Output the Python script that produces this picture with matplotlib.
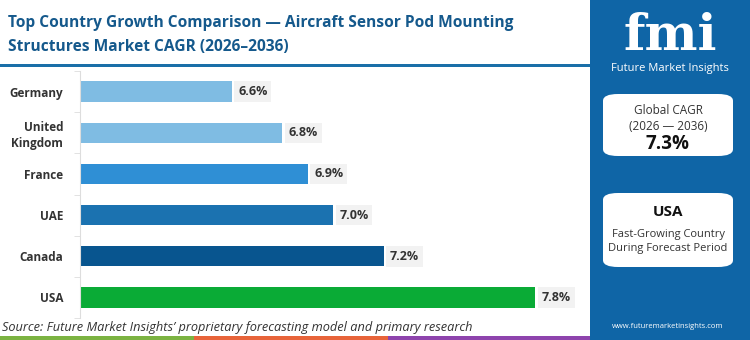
import numpy as np
import matplotlib.pyplot as plt
from matplotlib.patches import Rectangle, FancyBboxPatch

# data
countries = ['Germany', 'United\nKingdom', 'France', 'UAE', 'Canada', 'USA']
cagr = [6.6, 6.8, 6.9, 7.0, 7.2, 7.8]
bar_colors = ['#7fbce3', '#7fbce3', '#2f8fd5', '#1b72b0', '#08558f', '#0aab36']
global_cagr = '7.3%'
top_country = 'USA'

W, H = 750, 340
plt.rcParams['font.family'] = ['Open Sans', 'DejaVu Sans']

fig = plt.figure(figsize=(W / 100, H / 100), dpi=100)
fig.patch.set_facecolor('white')


def fx(x):
    return x / W


def fy(y):
    return 1 - y / H


# title
fig.text(fx(8), fy(23), 'Top Country Growth Comparison \u2014 Aircraft Sensor Pod Mounting',
         fontsize=11.2, fontweight='bold', color='#15598c', va='center', ha='left')
fig.text(fx(8), fy(47), 'Structures Market CAGR (2026\u20132036)',
         fontsize=11.2, fontweight='bold', color='#15598c', va='center', ha='left')
fig.add_artist(Rectangle((0, fy(67)), fx(590), 3 / H, transform=fig.transFigure,
                         color='#1a6fa8', lw=0))

# bars
ax = fig.add_axes([fx(80), fy(318), fx(586) - fx(80), (318 - 71) / H])
y = np.arange(len(countries))
ax.barh(y, [v - 6.0 for v in cagr], left=6.0, height=0.49, color=bar_colors)
ax.set_xlim(6.0, 8.0)
ax.set_ylim(len(countries) - 0.5, -0.5)
ax.set_yticks(y)
ax.set_yticklabels(countries, fontsize=8.5, fontweight='bold', color='#333333',
                   linespacing=1.3)
ax.set_yticks(np.arange(-0.5, len(countries), 1.0), minor=True)
ax.tick_params(axis='y', which='major', length=0, pad=12)
ax.tick_params(axis='y', which='minor', length=4, color='#dddddd')
ax.set_xticks([])
for s in ['top', 'right', 'bottom']:
    ax.spines[s].set_visible(False)
ax.spines['left'].set_color('#dddddd')
for yi, v in zip(y, cagr):
    ax.text(v + 0.025, yi, f'{v:.1f}%', va='center', ha='left', fontsize=9,
            fontweight='bold', color='#333333',
            bbox=dict(boxstyle='square,pad=0.3', fc='#f2f2f2', ec='none'))

# source + bottom strip
fig.text(fx(2), fy(328), 'Source: Future Market Insights\u2019 proprietary forecasting model and primary research',
         fontsize=9.2, style='italic', color='#333333', va='center', ha='left')
for x0, x1, c in [(0, 194, '#7cb342'), (194, 388, '#e8643a'), (388, 590, '#8e44ad')]:
    fig.add_artist(Rectangle((fx(x0), 0), fx(x1 - x0), 4 / H, transform=fig.transFigure,
                             color=c, lw=0))

# right panel
fig.add_artist(Rectangle((fx(590), 0), fx(160), 1, transform=fig.transFigure,
                         color='#0f65a6', lw=0))
fig.text(fx(670), fy(50), 'fmi', fontsize=36, fontweight='bold', family='DejaVu Serif',
         color='white', ha='center', va='baseline')
for yy in np.arange(16, 52, 3.2):
    fig.add_artist(Rectangle((fx(610), fy(yy)), fx(120), 1.2 / H,
                             transform=fig.transFigure, color='#0f65a6', lw=0))
fig.text(fx(670), fy(68), 'Future Market Insights', fontsize=8, color='white',
         ha='center', va='center')

for y0, y1 in [(94, 156), (193, 267)]:
    fig.add_artist(FancyBboxPatch((fx(603), fy(y1)), fx(130), (y1 - y0) / H,
                                  boxstyle='round,pad=0,rounding_size=0.02',
                                  transform=fig.transFigure, fc='white', ec='none'))
fig.text(fx(668), fy(110), 'Global CAGR', fontsize=8.5, color='#333333', ha='center', va='center')
fig.text(fx(668), fy(127), '(2026 \u2014 2036)', fontsize=8.5, color='#333333', ha='center', va='center')
fig.text(fx(668), fy(144), global_cagr, fontsize=13.5, fontweight='bold', color='#111111',
         ha='center', va='center')
fig.text(fx(668), fy(212), top_country, fontsize=11, fontweight='bold', color='#111111',
         ha='center', va='center')
fig.text(fx(668), fy(234), 'Fast-Growing Country', fontsize=8, color='#333333',
         ha='center', va='center')
fig.text(fx(668), fy(249), 'During Forecast Period', fontsize=8, color='#333333',
         ha='center', va='center')
fig.text(fx(668), fy(327), 'www.futuremarketinsights.com', fontsize=5.5, color='white',
         ha='center', va='center')

fig.savefig('out.png', dpi=100)
